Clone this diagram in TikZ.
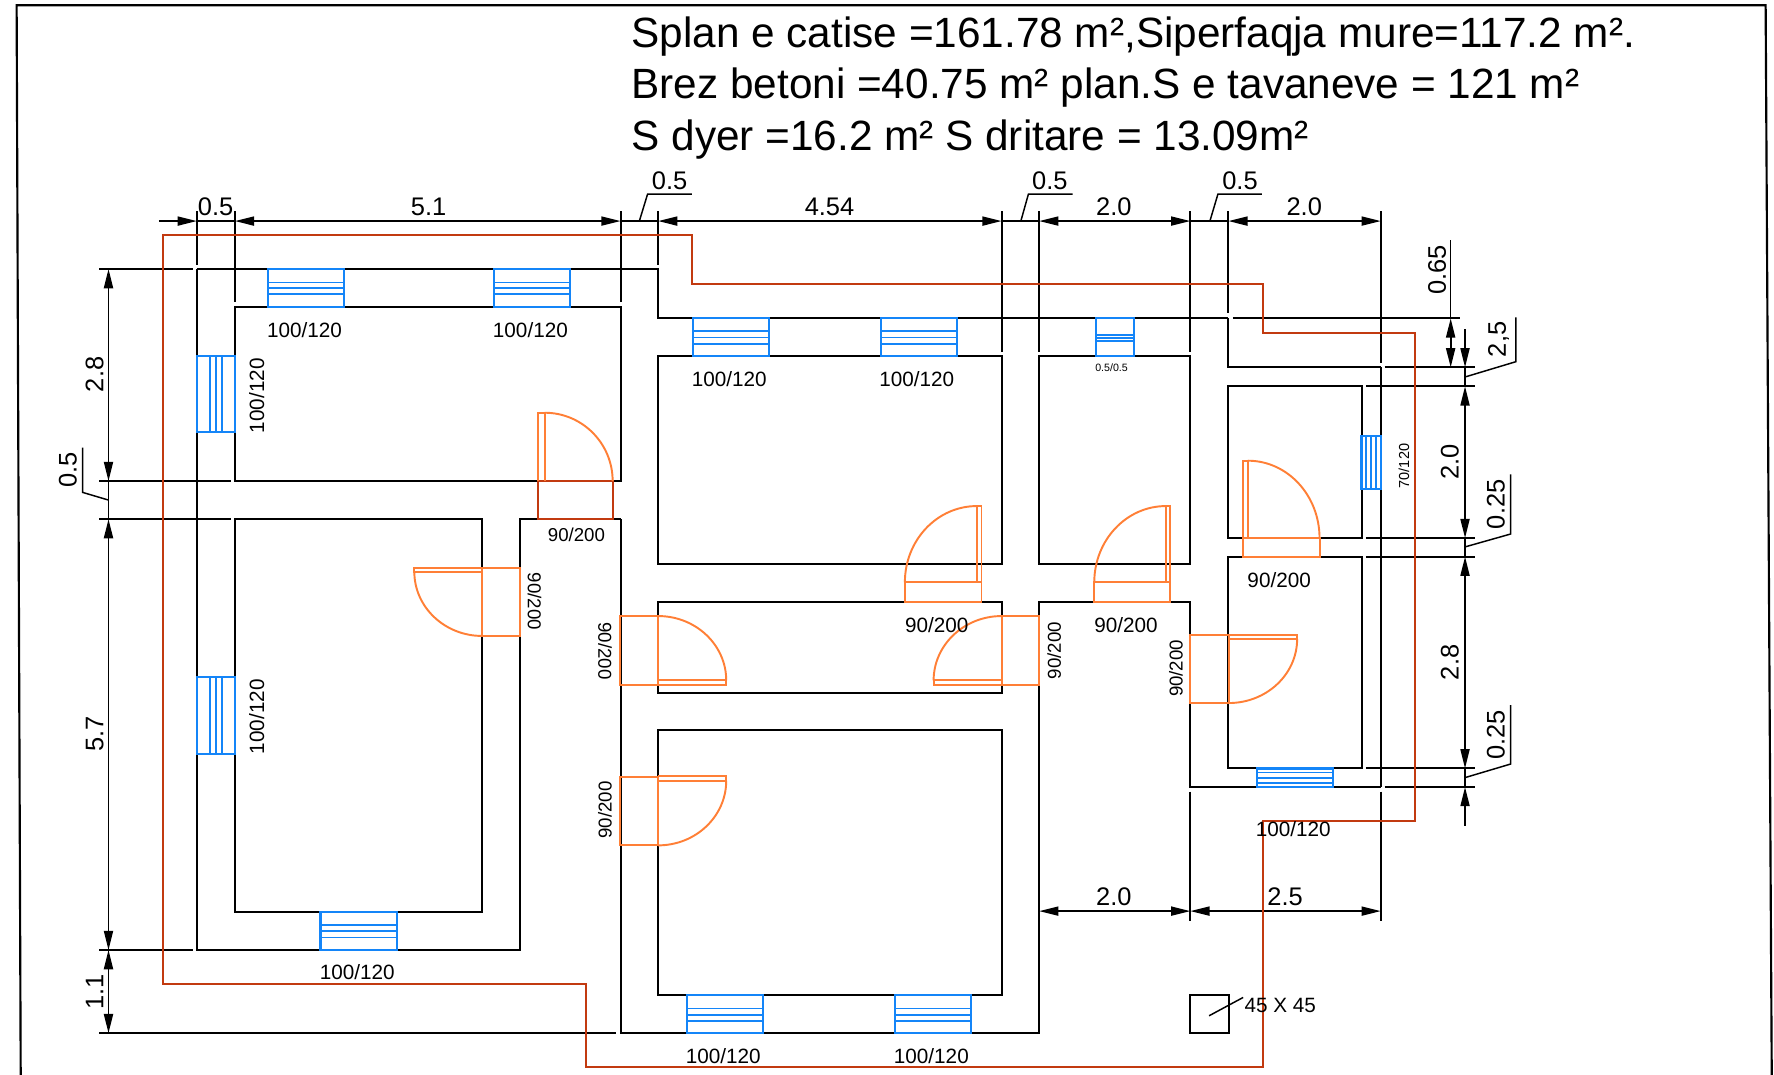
\documentclass[tikz,border=0pt]{standalone}
\usepackage{fontspec}
\setmainfont{Liberation Sans}
\usetikzlibrary{arrows.meta}
\definecolor{wallred}{HTML}{C23A10}
\definecolor{doorc}{HTML}{FF7F36}
\definecolor{winc}{HTML}{1485F8}
\tikzset{
  wall/.style={draw=black,line width=1.8pt},
  ext/.style={draw=black,line width=1.8pt},
  thin dim/.style={draw=black,line width=1.5pt},
  leader/.style={draw=black,line width=1.3pt},
  roofline/.style={draw=wallred,line width=1.7pt,line join=miter},
  door/.style={draw=doorc,line width=1.7pt},
  doorred/.style={draw=wallred,line width=1.7pt},
  win/.style={draw=winc,line width=1.9pt},
  winin/.style={draw=winc,line width=1.5pt},
  dimboth/.style={thin dim,{Triangle[length=17pt,width=8pt]}-{Triangle[length=17pt,width=8pt]}},
  dimend/.style={thin dim,-{Triangle[length=17pt,width=8pt]}},
  dimtxt/.style={inner sep=0pt,font=\fontsize{22.5}{24}\selectfont},
  lab/.style={inner sep=0pt,font=\fontsize{18.3}{20}\selectfont},
  labs/.style={inner sep=0pt,font=\fontsize{16.5}{18}\selectfont},
  title/.style={inner sep=0pt,anchor=base west,font=\fontsize{37.4}{39}\selectfont},
}
\newcommand{\winH}[7]{% x1 x2 y1 y2 l1 l2 l3
  \draw[win] (#1,#3) rectangle (#2,#4);
  \draw[winin] (#1,#5) -- (#2,#5) (#1,#6) -- (#2,#6) (#1,#7) -- (#2,#7);}
\newcommand{\winV}[7]{% x1 x2 y1 y2 l1 l2 l3
  \draw[win] (#1,#3) rectangle (#2,#4);
  \draw[winin] (#5,#3) -- (#5,#4) (#6,#3) -- (#6,#4) (#7,#3) -- (#7,#4);}
\begin{document}
\begin{tikzpicture}[x=1pt,y=-1pt]
\useasboundingbox (0,0) rectangle (1568,950);
\fill[white] (0,0) rectangle (1568,950);
% sheet frame
\draw[wall,line width=1.9pt] (18.3,950) -- (14.7,4.7) -- (1560.6,4.7) -- (1566,950);
% titles
\node[title] (t1) at (558,42.1) {Splan e catise =161.78 m²,Siperfaqja mure=117.2 m².};
\node[title] (t2) at (558,87.5) {Brez betoni =40.75 m² plan.S e tavaneve = 121 m²};
\node[title] (t3) at (558,132.6) {S dyer =16.2 m² S dritare = 13.09m²};
% walls: left block
\draw[wall] (581.7,186.5) -- (581.7,234.3);
\draw[wall] (174,237.8) -- (581.7,237.8) -- (581.7,281.4) -- (1085.7,281.4);
\draw[wall] (1089.6,281.4) -- (1290.7,281.4);
\draw[wall] (1085.7,186.5) -- (1085.7,277);
\draw[wall] (1085.7,281.4) -- (1085.7,324.7) -- (1220.4,324.7);
\draw[wall] (1220.4,186.5) -- (1220.4,320.6);
\draw[wall] (1220.4,324.7) -- (1220.4,695.6);
\draw[wall] (174,186.5) -- (174,234.3);
\draw[wall] (174,237.8) -- (174,839.7) -- (459.7,839.7) -- (459.7,458.8) -- (548.5,458.8);
\draw[wall] (548.5,458.8) -- (548.5,913.2) -- (918.5,913.2) -- (918.5,532.4) -- (1052.1,532.4) -- (1052.1,695.6) -- (1220.4,695.6);
\draw[wall] (207.6,186.5) -- (207.6,267.2);
\draw[wall] (548.5,186.5) -- (548.5,267.2);
\draw[wall] (885.3,186.5) -- (885.3,310.9);
\draw[wall] (918.5,186.5) -- (918.5,310.9);
\draw[wall] (1052.1,186.5) -- (1052.1,310.9);
\draw[wall] (207.6,271.4) rectangle (548.5,425.2);
\draw[wall] (207.6,458.8) rectangle (426.2,806.4);
\draw[wall] (581.7,315) rectangle (885.3,498.8);
\draw[wall] (918.5,315) rectangle (1052.1,498.8);
\draw[wall] (581.7,532.4) rectangle (885.3,612.3);
\draw[wall] (581.7,645.3) rectangle (885.3,879.8);
\draw[wall] (1085.7,341.5) rectangle (1203.4,475.6);
\draw[wall] (1085.7,492) rectangle (1203.4,679.2);
\draw[wall] (1052.1,879.8) rectangle (1086,913.2);
% extension lines
\draw[ext] (87.6,237.8) -- (170.5,237.8);
\draw[ext] (87.6,425.2) -- (204,425.2);
\draw[ext] (87.6,458.8) -- (204,458.8);
\draw[ext] (87.6,839.7) -- (170.5,839.7);
\draw[ext] (87.6,913.2) -- (544.6,913.2);
\draw[ext] (1223.9,324.7) -- (1303.8,324.7);
\draw[ext] (1207.3,341.5) -- (1303.8,341.5);
\draw[ext] (1207.3,475.6) -- (1303.8,475.6);
\draw[ext] (1207.3,492) -- (1303.8,492);
\draw[ext] (1207.3,679.2) -- (1303.8,679.2);
\draw[ext] (1223.9,695.6) -- (1303.8,695.6);
\draw[ext] (1052.1,699.8) -- (1052.1,814.1);
\draw[ext] (1220.4,699.8) -- (1220.4,814.1);
% horizontal dimensions, top
\draw[dimend] (140.5,195.4) -- (174,195.4);
\draw[thin dim] (174,195.4) -- (207.6,195.4);
\draw[dimboth] (207.6,195.4) -- (548.5,195.4);
\draw[thin dim] (548.5,195.4) -- (581.7,195.4);
\draw[dimboth] (581.7,195.4) -- (885.3,195.4);
\draw[thin dim] (885.3,195.4) -- (918.5,195.4);
\draw[dimboth] (918.5,195.4) -- (1052.1,195.4);
\draw[thin dim] (1052.1,195.4) -- (1085.7,195.4);
\draw[dimboth] (1085.7,195.4) -- (1220.4,195.4);
% horizontal dimensions, bottom
\draw[dimboth] (918.5,805.3) -- (1052.1,805.3);
\draw[dimboth] (1052.1,805.3) -- (1220.4,805.3);
% vertical dimensions, left
\draw[dimboth] (95.9,237.8) -- (95.9,425.2);
\draw[thin dim] (95.9,425.2) -- (95.9,458.8);
\draw[dimboth] (95.9,458.8) -- (95.9,839.7);
\draw[dimboth] (95.9,839.7) -- (95.9,913.2);
% vertical dimensions, right
\draw[dimboth] (1282.2,281.4) -- (1282.2,324.7);
\draw[leader] (1282.2,281.4) -- (1282.2,212.2);
\draw[dimend] (1294.9,291) -- (1294.9,324.7);
\draw[thin dim] (1294.9,324.7) -- (1294.9,341.5);
\draw[dimboth] (1294.9,341.5) -- (1294.9,475.6);
\draw[thin dim] (1294.9,475.6) -- (1294.9,492);
\draw[dimboth] (1294.9,492) -- (1294.9,679.2);
\draw[thin dim] (1294.9,679.2) -- (1294.9,695.6);
\draw[dimend] (1294.9,729.8) -- (1294.9,695.6);
% leaders
\draw[leader] (565.1,195.4) -- (572.4,171.5) -- (611.6,171.5);
\draw[leader] (902.3,195.4) -- (909,171.5) -- (948,171.5);
\draw[leader] (1069.4,195.4) -- (1076.5,171.5) -- (1115.4,171.5);
\draw[leader] (95.9,442) -- (73,435.2) -- (73,395.7);
\draw[leader] (1295.6,333) -- (1339.8,319.7) -- (1339.8,280.5);
\draw[leader] (1295.6,483.2) -- (1335.2,472) -- (1335.2,419.3);
\draw[leader] (1295.6,687.1) -- (1335.2,675.3) -- (1335.2,623.2);
\draw[leader] (1068.7,897.8) -- (1098.8,881.6);
% windows
\winH{236.8}{303.9}{237.8}{271.4}{249.6}{254.6}{259.9}
\winH{436.5}{504}{237.8}{271.4}{249.6}{254.6}{259.9}
\winV{174}{207.6}{314.7}{382.2}{185.5}{191}{196.5}
\winV{174}{207.6}{598.7}{666.7}{185.5}{191}{196.5}
\winH{283.3}{350.8}{806.4}{839.7}{817.3}{822.9}{828.5}
\winH{612.5}{679.8}{281.4}{315}{292.6}{298.2}{303.9}
\winH{778.5}{845.8}{281.4}{315}{292.6}{298.2}{303.9}
\winH{968.6}{1002.4}{281.4}{315}{295.8}{298.5}{301.1}
\winV{1203.4}{1220.4}{385.1}{432.3}{1207.6}{1211.9}{1216.1}
\winH{1110.8}{1178.3}{679.2}{695.6}{682.7}{687.4}{691.8}
\winH{607.4}{674.4}{879.8}{913.2}{891.3}{896.9}{902.2}
\winH{791.4}{858.3}{879.8}{913.2}{891.3}{896.9}{902.2}
% doors
\draw[doorred] (475.5,425.2) rectangle (541.5,458.8);
\draw[door] (475.5,425.2) -- (475.5,364.8) -- (481.4,364.8) -- (481.4,425.2);
\draw[door] (481.4,364.8) arc[start angle=90,end angle=0,x radius=60.1pt,y radius=60.4pt];
\draw[door] (426.2,501.8) rectangle (459.7,562.1);
\draw[door] (426.2,501.8) -- (366.2,501.8) -- (366.2,505.3) -- (426.2,505.3);
\draw[door] (366.2,505.3) arc[start angle=180,end angle=270,x radius=60pt,y radius=56.8pt];
\draw[door] (799.8,514.7) rectangle (867.5,532.4);
\draw[door] (867.5,514.7) -- (867.5,447.3) -- (863.4,447.3) -- (863.4,514.7);
\draw[door] (863.4,447.3) arc[start angle=90,end angle=180,x radius=63.6pt,y radius=67.4pt];
\draw[door] (967.2,514.7) rectangle (1034.5,532.4);
\draw[door] (1034.5,514.7) -- (1034.5,447.3) -- (1030.5,447.3) -- (1030.5,514.7);
\draw[door] (1030.5,447.3) arc[start angle=90,end angle=180,x radius=63.3pt,y radius=67.4pt];
\draw[door] (548.2,544.5) rectangle (581.7,605.2);
\draw[door] (581.7,605.2) -- (641.9,605.2) -- (641.9,601.4) -- (581.7,601.4);
\draw[door] (581.7,544.5) arc[start angle=90,end angle=0,x radius=60.2pt,y radius=56.9pt];
\draw[door] (885.4,544.5) rectangle (918.5,605.2);
\draw[door] (885.4,605.2) -- (825.2,605.2) -- (825.2,601.4) -- (885.4,601.4);
\draw[door] (885.4,544.5) arc[start angle=90,end angle=180,x radius=60.2pt,y radius=56.9pt];
\draw[door] (548.2,686.5) rectangle (581.7,747.2);
\draw[door] (581.7,686) -- (641.9,686) -- (641.9,690) -- (581.7,690);
\draw[door] (641.9,690) arc[start angle=0,end angle=-90,x radius=60.2pt,y radius=57.2pt];
\draw[door] (1052.1,561) rectangle (1086,621.4);
\draw[door] (1086,561) -- (1146.5,561) -- (1146.5,564.8) -- (1086,564.8);
\draw[door] (1146.5,564.8) arc[start angle=0,end angle=-90,x radius=60.5pt,y radius=56.6pt];
\draw[door] (1098.8,475.6) rectangle (1166.3,492);
\draw[door] (1098.8,475.6) -- (1098.8,407.2) -- (1103,407.2) -- (1103,475.6);
\draw[door] (1103,407.2) arc[start angle=90,end angle=0,x radius=63.3pt,y radius=68.4pt];
% roof outline
\draw[roofline] (144,207.7) -- (611.8,207.7) -- (611.8,251.3) -- (1116,251.3) -- (1116,294.7) -- (1250.4,294.7) -- (1250.4,725.7) -- (1116,725.7) -- (1116,943.1) -- (518.2,943.1) -- (518.2,869.7) -- (144,869.7) -- cycle;
% dimension texts
\node[dimtxt] (d1) at (190.6,182.7) {0.5};
\node[dimtxt] (d2) at (378.8,182.7) {5.1};
\node[dimtxt] (d3) at (591.9,160) {0.5};
\node[dimtxt] (d4) at (733.2,182.7) {4.54};
\node[dimtxt] (d5) at (928,160) {0.5};
\node[dimtxt] (d6) at (984.5,182.7) {2.0};
\node[dimtxt] (d7) at (1096,160) {0.5};
\node[dimtxt] (d8) at (1152.8,182.7) {2.0};
\node[dimtxt,rotate=90] (d9) at (83.7,330.9) {2.8};
\node[dimtxt,rotate=90] (d10) at (60,415.4) {0.5};
\node[dimtxt,rotate=90] (d11) at (83.7,649) {5.7};
\node[dimtxt,rotate=90] (d12) at (83.7,876.5) {1.1};
\node[dimtxt,rotate=90] (d13) at (1270.2,238.7) {0.65};
\node[dimtxt,rotate=90] (d14) at (1324.6,300) {2,5};
\node[dimtxt,rotate=90] (d15) at (1281.5,408) {2.0};
\node[dimtxt,rotate=90] (d16) at (1322.2,445.8) {0.25};
\node[dimtxt,rotate=90] (d17) at (1281.5,585.5) {2.8};
\node[dimtxt,rotate=90] (d18) at (1322.2,649.7) {0.25};
\node[dimtxt] (d19) at (984.5,792.6) {2.0};
\node[dimtxt] (d20) at (1135.9,792.6) {2.5};
% window labels
\node[lab] (w1) at (269.1,291.7) {100/120};
\node[lab] (w2) at (468.8,291.7) {100/120};
\node[lab,rotate=90] (w3) at (226.9,349.8) {100/120};
\node[lab,rotate=90] (w4) at (226.9,633.4) {100/120};
\node[lab] (w5) at (315.7,858.8) {100/120};
\node[lab] (w6) at (644.6,335) {100/120};
\node[lab] (w7) at (810.3,335) {100/120};
\node[inner sep=0pt,font=\fontsize{9.4}{10}\selectfont] (w8) at (982.5,324.7) {0.5/0.5};
\node[inner sep=0pt,rotate=90,font=\fontsize{12.8}{14}\selectfont] (w9) at (1240.9,411.9) {70/120};
\node[lab] (w10) at (1143,732.5) {100/120};
\node[lab] (w11) at (639.2,933.1) {100/120};
\node[lab] (w12) at (823.2,933.1) {100/120};
% door labels
\node[labs] (e1) at (509.5,472.3) {90/200};
\node[labs,rotate=-90] (e2) at (472.4,531.5) {90/200};
\node[labs,rotate=-90] (e3) at (534.7,575.4) {90/200};
\node[labs,rotate=90] (e4) at (534.7,715.9) {90/200};
\node[lab] (e5) at (827.9,552.5) {90/200};
\node[lab] (e6) at (995.3,552.5) {90/200};
\node[labs,rotate=90] (e7) at (931.7,575.1) {90/200};
\node[labs,rotate=90] (e8) at (1039.4,590.8) {90/200};
\node[lab] (e9) at (1130.6,512.7) {90/200};
\node[lab] (c1) at (1131.6,888.3) {45 X 45};
\end{tikzpicture}
\end{document}
